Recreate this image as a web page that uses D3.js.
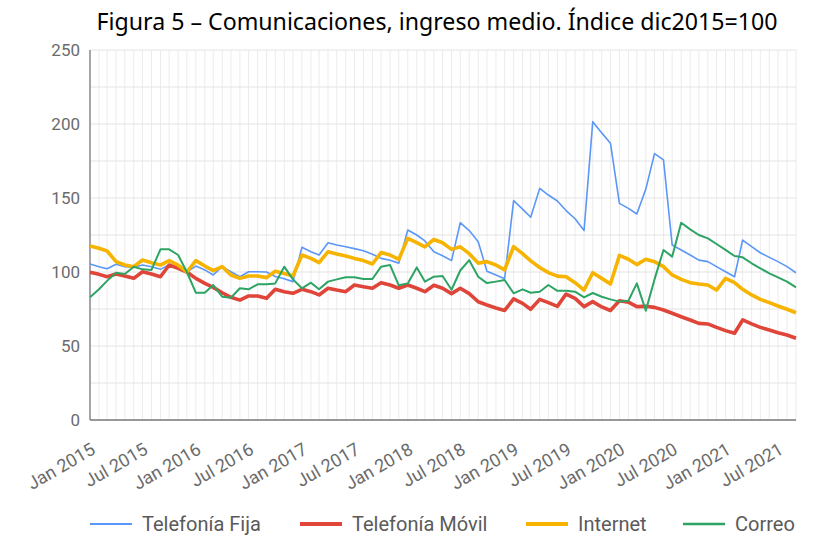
<!DOCTYPE html>
<html>
<head>
<meta charset="utf-8">
<script src="https://cdn.jsdelivr.net/npm/d3@7"></script>
<style>
body { margin: 0; background: #fff; }
svg { display: block; }
</style>
</head>
<body>
<svg id="chart" width="834" height="537"></svg>
<script>
const chartTitle = 'Figura 5 – Comunicaciones, ingreso medio. Índice dic2015=100';

// monthly data, Jan 2015 .. Sep 2021
const firstMonth = new Date(2015, 0, 1);
const lastMonth = new Date(2021, 8, 1);
const months = d3.timeMonth.range(firstMonth, d3.timeMonth.offset(lastMonth, 1));

const yTicks = [0, 50, 100, 150, 200, 250];

const telefoniaFija = [
    105.4, 103.6, 102.2, 105.2, 103.6, 103.2, 104.7, 103.6, 101.8, 105, 102.5, 100,
    104, 101.4, 98, 103.6, 100.2, 96.8, 100.2, 100.2, 100, 97, 95.5, 93.5,
    116.7, 113.7, 111.5, 119.8, 118.3, 117, 115.8, 114.4, 112, 109.2, 108, 106,
    128.4, 125, 121, 113.7, 111, 107.7, 133.3, 128, 120.5, 100.5, 98, 95.5,
    148.2, 142.5, 137, 156.5, 152, 148, 141.5, 136, 128, 201.6, 194, 187,
    146.4, 143, 139.2, 156, 180, 175.7, 118.2, 114.9, 111.5, 108, 107, 103.6,
    100.2, 96.8, 121.6, 117.1, 113, 109.9, 107, 103.6, 99.5
];
const telefoniaMovil = [
    99.8, 98.4, 96.8, 98.6, 97.3, 95.7, 100.2, 98.6, 96.8, 104.7, 102.5, 100,
    95.7, 92.3, 89.6, 86, 82.9, 81, 83.8, 83.8, 82.2, 88.3, 86.7, 85.6,
    88.3, 86.7, 84.5, 89, 87.8, 86.7, 91.2, 90, 89, 92.8, 91.2, 89,
    91.2, 89, 86.7, 91, 89, 85.4, 89, 85.4, 79.9, 77.7, 75.7, 74,
    81.8, 78.8, 74.8, 81.5, 79.3, 76.8, 85.1, 82.2, 76.6, 80, 76.4, 74,
    80.6, 79.6, 76.6, 76.8, 76.1, 74.3, 72.1, 69.8, 67.6, 65.3, 64.9, 62.6,
    60.4, 58.6, 67.6, 64.9, 62.6, 60.8, 59, 57.4, 55.2
];
const internet = [
    117.6, 116, 114.2, 107, 104.7, 103.6, 108.1, 106.3, 104.7, 107.7, 104.7, 100,
    107.7, 104, 100.9, 103.6, 98, 95.7, 97.3, 97.3, 96.2, 100.5, 99, 97.3,
    111.5, 109.2, 106.3, 113.7, 112.2, 110.8, 109.2, 107.7, 105.4, 113.1, 111.5, 108.5,
    122.7, 119.8, 117, 122, 119.8, 115.3, 117, 112.4, 106, 107, 104.7, 101.4,
    117.1, 112.4, 107.5, 103, 99.6, 97.2, 96.8, 92.8, 87.8, 99.5, 95.7, 91.9,
    111.2, 108.6, 105, 108.6, 107, 103.6, 98, 95, 92.8, 91.9, 91.2, 87.8,
    95.7, 92.8, 88.3, 84.5, 81.5, 79.3, 77, 74.8, 72.5
];
const correo = [
    83, 88.3, 94, 99.5, 98.6, 103.6, 101.8, 101.4, 115.3, 115.3, 111.5, 100,
    86, 86, 91.2, 83.3, 82.6, 89, 88.3, 91.7, 91.7, 92.3, 103.6, 95,
    89, 92.8, 88.3, 93.5, 95, 96.4, 96.4, 95.3, 95.3, 103.6, 104.7, 91,
    92.3, 103.1, 93.5, 96.8, 97.3, 88, 101, 108, 96.8, 92.5, 93.5, 94.6,
    85.6, 88.3, 86, 86.7, 91.2, 87.3, 87.3, 86.7, 82.9, 85.8, 83.3, 81.5,
    80, 80.6, 92.3, 73.9, 95, 114.9, 110.4, 133.3, 128.8, 125, 122.7, 118.9,
    114.9, 110.8, 109.9, 105.9, 102.5, 99.1, 96.4, 93.5, 89.6
];

const seriesNames = ['Telefonía Fija', 'Telefonía Móvil', 'Internet', 'Correo'];
const seriesValues = [telefoniaFija, telefoniaMovil, internet, correo];
const seriesColors = ['#5b97f7', '#df4538', '#f6b400', '#2ea464'];
const seriesWidths = [1.6, 3.6, 3.6, 2];

const svg = d3.select('#chart');
const plotLeft = 90, plotRight = 796, plotTop = 50, plotBottom = 420;

const xs = d3.scaleTime().domain([firstMonth, lastMonth]).range([plotLeft, plotRight]);
const ys = d3.scaleLinear().domain([0, 250]).range([plotBottom, plotTop]);

// grid
svg.append('g')
    .selectAll('line')
    .data(months)
    .enter()
    .append('line')
    .attr('x1', d => xs(d)).attr('x2', d => xs(d))
    .attr('y1', plotTop).attr('y2', plotBottom)
    .attr('stroke', '#ececec')
    .attr('stroke-width', 1);

svg.append('g')
    .selectAll('line')
    .data(d3.range(0, 251, 25))
    .enter()
    .append('line')
    .attr('x1', plotLeft).attr('x2', plotRight)
    .attr('y1', d => ys(d)).attr('y2', d => ys(d))
    .attr('stroke', '#e3e3e3')
    .attr('stroke-width', 1);

// axes
const yAxis = svg.append('g')
    .attr('transform', `translate(${plotLeft - 10},0)`)
    .call(d3.axisLeft(ys).tickValues(yTicks).tickSize(0).tickPadding(0));
yAxis.select('.domain').remove();
yAxis.selectAll('text')
    .attr('fill', '#6b6b6b')
    .style('font-family', 'Roboto, sans-serif')
    .style('font-size', '17px');

const xAxis = svg.append('g')
    .attr('transform', `translate(0,${plotBottom})`)
    .call(d3.axisBottom(xs).ticks(d3.timeMonth.every(6)).tickFormat(d3.timeFormat('%b %Y')).tickSize(0));
xAxis.select('.domain').remove();
xAxis.selectAll('text')
    .attr('fill', '#6b6b6b')
    .attr('text-anchor', 'end')
    .attr('dy', 0)
    .attr('y', 0)
    .attr('transform', 'translate(6,33) rotate(-30)')
    .style('font-family', 'Roboto, sans-serif')
    .style('font-size', '18px');

svg.append('line')
    .attr('x1', plotLeft).attr('x2', plotLeft)
    .attr('y1', plotTop).attr('y2', plotBottom)
    .attr('stroke', '#a6a6a6').attr('stroke-width', 2);
svg.append('line')
    .attr('x1', plotLeft).attr('x2', plotRight)
    .attr('y1', plotBottom).attr('y2', plotBottom)
    .attr('stroke', '#7a7a7a').attr('stroke-width', 1.5);

// lines
const line = d3.line()
    .x((d, i) => xs(months[i]))
    .y(d => ys(d));

svg.append('g')
    .selectAll('path')
    .data(seriesValues)
    .enter()
    .append('path')
    .attr('d', d => line(d))
    .attr('fill', 'none')
    .attr('stroke', (d, i) => seriesColors[i])
    .attr('stroke-width', (d, i) => seriesWidths[i])
    .attr('stroke-linejoin', 'round');

// title
svg.append('text')
    .attr('x', 437)
    .attr('y', 30)
    .attr('text-anchor', 'middle')
    .attr('textLength', 681)
    .attr('lengthAdjust', 'spacingAndGlyphs')
    .attr('fill', '#000')
    .style('font-family', '"Noto Sans", sans-serif')
    .style('font-size', '23px')
    .text(chartTitle);

// legend
const legendX = [90, 300, 526, 683];
const legend = svg.append('g')
    .selectAll('g')
    .data(seriesNames)
    .enter()
    .append('g')
    .attr('transform', (d, i) => `translate(${legendX[i]},524)`);
legend.append('line')
    .attr('x1', 0).attr('x2', 42)
    .attr('stroke', (d, i) => seriesColors[i])
    .attr('stroke-width', (d, i) => seriesWidths[i] + 0.4);
legend.append('text')
    .attr('x', 52)
    .attr('y', 7)
    .attr('fill', '#5a5a5a')
    .style('font-family', 'Roboto, sans-serif')
    .style('font-size', '20px')
    .text(d => d);
</script>
</body>
</html>
